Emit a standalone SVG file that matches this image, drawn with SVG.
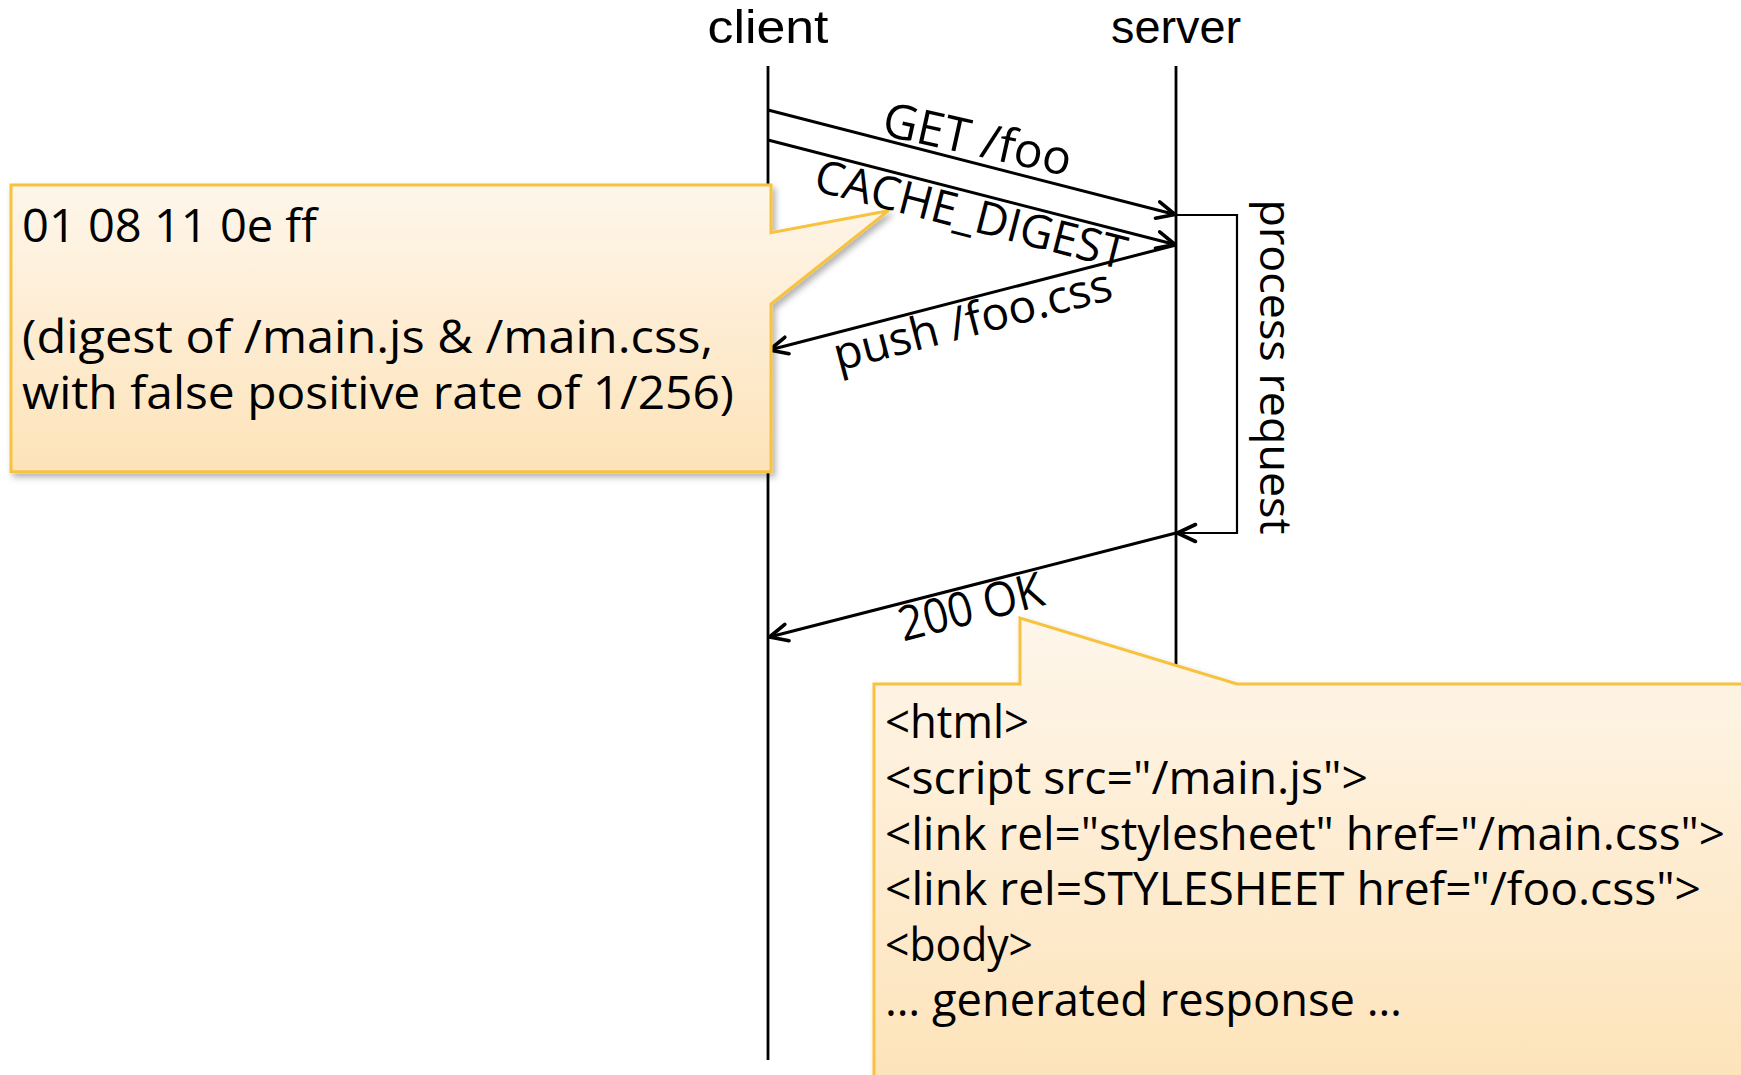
<svg xmlns="http://www.w3.org/2000/svg" width="1741" height="1075" viewBox="0 0 1741 1075">
<defs>
<style>
.lbl { font-family: "Open Sans", "Liberation Sans", sans-serif; font-size: 46px; fill: #000; }
.head { font-family: "Liberation Sans", "Open Sans", sans-serif; font-size: 46px; fill: #000; }
.note { font-family: "Open Sans", "Liberation Sans", sans-serif; font-size: 45px; fill: #000; }
.life { stroke: #000; stroke-width: 2.8; fill: none; }
.msg { stroke: #000; stroke-width: 3; fill: none; marker-end: url(#arr); }
.proc { stroke: #000; stroke-width: 2.2; fill: none; marker-end: url(#arr); }
.callout { fill: url(#cg); stroke: #F7C23C; stroke-width: 3; filter: url(#sh); }
</style>
<marker id="arr" markerUnits="userSpaceOnUse" markerWidth="40" markerHeight="40" refX="0" refY="0" orient="auto" overflow="visible">
<path d="M-18,-8.5 L0,0 L-18,8.5" fill="none" stroke="#000" stroke-width="3.6" stroke-linecap="round" stroke-linejoin="round"/>
</marker>
<linearGradient id="cg" x1="0" y1="0" x2="0" y2="1">
<stop offset="0" stop-color="#FEF6EB"/>
<stop offset="1" stop-color="#FDE3B9"/>
</linearGradient>
<filter id="sh" x="-5%" y="-5%" width="115%" height="120%">
<feDropShadow dx="3" dy="4" stdDeviation="3" flood-color="#000" flood-opacity="0.3"/>
</filter>
</defs>
<rect width="1741" height="1075" fill="#fff"/>

<g id="client">
<text class="head" x="768" y="43" text-anchor="middle" textLength="121" lengthAdjust="spacingAndGlyphs">client</text>
<line class="life" x1="768" y1="66" x2="768" y2="1060"/>
</g>
<g id="server">
<text class="head" x="1176" y="43" text-anchor="middle" textLength="130" lengthAdjust="spacingAndGlyphs">server</text>
<line class="life" x1="1176" y1="66" x2="1176" y2="700"/>
</g>

<g id="connectors">
<line class="msg" x1="768" y1="110" x2="1175" y2="214.5"/>
<line class="msg" x1="768" y1="140" x2="1175" y2="244.5"/>
<line class="msg" x1="1176" y1="245" x2="769.5" y2="350"/>
<path class="proc" d="M1176,215 H1237 V533 H1177.5"/>
<line class="msg" x1="1176" y1="533" x2="769.5" y2="637"/>
</g>

<g id="note-digest">
<path class="callout" d="M11,185 H771 V232.7 L888.5,210.7 L771,304 V471.7 H11 Z"/>
<text class="note" x="22" y="242" textLength="295" lengthAdjust="spacingAndGlyphs">01 08 11 0e ff</text>
<text class="note" x="22" y="353" textLength="691" lengthAdjust="spacingAndGlyphs">(digest of /main.js &amp; /main.css,</text>
<text class="note" x="22" y="408.5" textLength="712" lengthAdjust="spacingAndGlyphs">with false positive rate of 1/256)</text>
</g>

<g id="note-response">
<path class="callout" d="M874,684 H1020 V618 L1237,684 H1750 V1085 H874 Z"/>
<text class="note" x="885" y="738" textLength="144" lengthAdjust="spacingAndGlyphs">&lt;html&gt;</text>
<text class="note" x="885" y="794" textLength="483" lengthAdjust="spacingAndGlyphs">&lt;script src="/main.js"&gt;</text>
<text class="note" x="885" y="849.5" textLength="840" lengthAdjust="spacingAndGlyphs">&lt;link rel="stylesheet" href="/main.css"&gt;</text>
<text class="note" x="885" y="905" textLength="816" lengthAdjust="spacingAndGlyphs">&lt;link rel=STYLESHEET href="/foo.css"&gt;</text>
<text class="note" x="885" y="960.5" textLength="148" lengthAdjust="spacingAndGlyphs">&lt;body&gt;</text>
<text class="note" x="885" y="1016" textLength="517" lengthAdjust="spacingAndGlyphs">… generated response …</text>
</g>

<g id="labels">
<text class="lbl" style="font-size:48px" transform="translate(974,155.5) rotate(12.5)" text-anchor="middle" textLength="192" lengthAdjust="spacingAndGlyphs">GET /foo</text>
<text class="lbl" transform="translate(967,230) rotate(14.4)" text-anchor="middle" textLength="320" lengthAdjust="spacingAndGlyphs">CACHE_DIGEST</text>
<text class="lbl" transform="translate(976.5,335) rotate(-14.6)" text-anchor="middle" textLength="286" lengthAdjust="spacingAndGlyphs">push /foo.css</text>
<text class="lbl" style="font-size:43px" transform="translate(1260,367) rotate(90)" text-anchor="middle" textLength="335" lengthAdjust="spacingAndGlyphs">process request</text>
<text class="lbl" style="font-size:48px" transform="translate(975,623) rotate(-14.4)" text-anchor="middle" textLength="148" lengthAdjust="spacingAndGlyphs">200 OK</text>
</g>
</svg>
